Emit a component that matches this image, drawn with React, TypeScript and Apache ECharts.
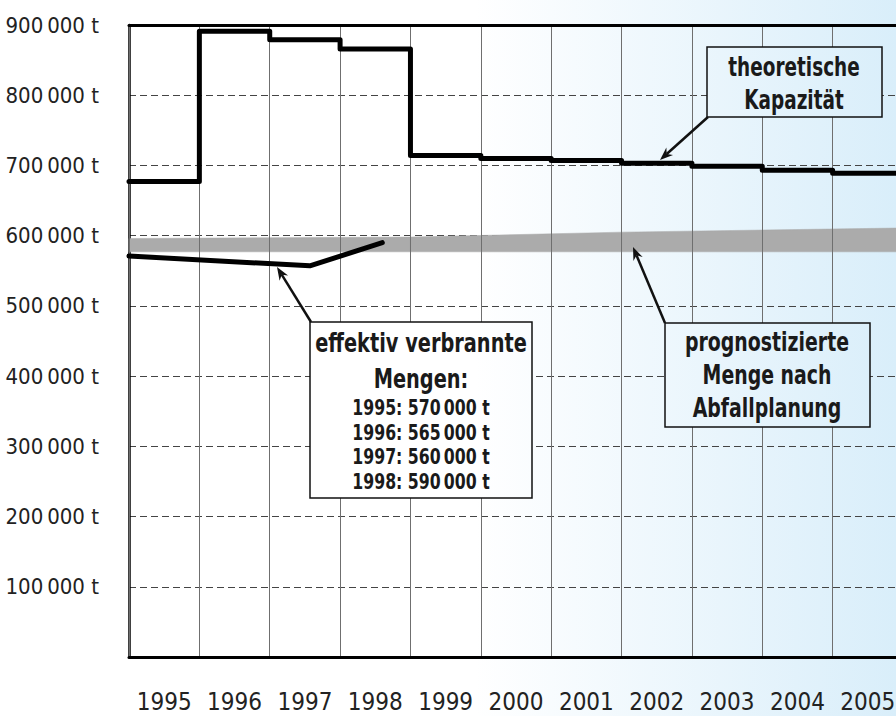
import React, { useEffect, useRef } from 'react';
import * as echarts from 'echarts';

const years = ['1995', '1996', '1997', '1998', '1999', '2000', '2001', '2002', '2003', '2004', '2005'];
const capacity = [677000, 891000, 879000, 866000, 714000, 710000, 707000, 703000, 699000, 693000, 689000];

const effectiveX = [1994.5, 1997.07, 1998.1];
const effectiveY = [571000, 557000, 590000];

const bandX = [1994.5, 1998.5, 2001.5, 2005.5];
const bandLow = [577000, 577000, 577000, 577000];
const bandHigh = [596000, 598000, 605000, 611000];

const yTickValues = [100000, 200000, 300000, 400000, 500000, 600000, 700000, 800000, 900000];
const yTickLabels = ['100\u2009000 t', '200\u2009000 t', '300\u2009000 t', '400\u2009000 t', '500\u2009000 t', '600\u2009000 t', '700\u2009000 t', '800\u2009000 t', '900\u2009000 t'];

const FONT = "'Liberation Sans Narrow', 'DejaVu Sans Condensed', 'DejaVu Sans', sans-serif";

const bgStops = [
  { offset: 0, color: '#ffffff' },
  { offset: 0.53, color: '#ffffff' },
  { offset: 1, color: '#d9eefa' },
];

function arrow(x1: number, y1: number, x2: number, y2: number) {
  const dx = x2 - x1;
  const dy = y2 - y1;
  const len = Math.sqrt(dx * dx + dy * dy);
  const ux = dx / len;
  const uy = dy / len;
  const hl = 13;
  const hw = 5;
  const bx = x2 - ux * hl;
  const by = y2 - uy * hl;
  const nx = bx + ux * 4;
  const ny = by + uy * 4;
  return [
    {
      type: 'line',
      z: 100,
      shape: { x1, y1, x2: nx, y2: ny },
      style: { stroke: '#111', lineWidth: 2.5 },
    },
    {
      type: 'polygon',
      z: 100,
      shape: {
        points: [
          [x2, y2],
          [bx - uy * hw, by + ux * hw],
          [nx, ny],
          [bx + uy * hw, by - ux * hw],
        ],
      },
      style: { fill: '#111' },
    },
  ];
}

function box(x: number, y: number, w: number, h: number) {
  return {
    type: 'rect',
    z: 100,
    shape: { x, y, width: w, height: h },
    style: {
      fill: new echarts.graphic.LinearGradient(0, 0, 896, 0, bgStops, true),
      stroke: '#111',
      lineWidth: 1.5,
    },
  };
}

function label(text: string, x: number, y: number, size: number, sy: number) {
  return {
    type: 'text',
    z: 101,
    x,
    y,
    scaleY: sy,
    style: {
      text,
      fill: '#1a1a1a',
      font: `bold ${size}px ${FONT}`,
      textAlign: 'center',
      textVerticalAlign: 'middle',
    },
  };
}

export default function App() {
  const ref = useRef<HTMLDivElement>(null);

  useEffect(() => {
    if (!ref.current) return;
    const chart = echarts.init(ref.current, null, { renderer: 'svg' });

    const capData = years.map((y, i) => [Number(y) - 0.5, capacity[i]]);
    capData.push([Number(years[years.length - 1]) + 0.5, capacity[capacity.length - 1]]);

    const option: any = {
      animation: false,
      backgroundColor: new echarts.graphic.LinearGradient(0, 0, 1, 0, bgStops),
      grid: { left: 129, right: -7, top: 25, bottom: 59, containLabel: false, outerBoundsMode: 'none' },
      xAxis: [
        {
          type: 'category',
          data: years,
          boundaryGap: true,
          position: 'bottom',
          axisLine: { show: true, lineStyle: { color: '#000', width: 3 } },
          axisTick: { show: false },
          axisLabel: {
            color: '#222',
            fontFamily: FONT,
            fontSize: 24,
            margin: 33,
            interval: 0,
          },
          splitLine: { show: true, interval: 0, lineStyle: { color: '#6f6f6f', width: 1, type: 'solid' } },
          z: 3,
        },
        {
          type: 'value',
          min: 1994.5,
          max: 2005.5,
          position: 'top',
          axisLine: { show: true, onZero: false, lineStyle: { color: '#000', width: 3 } },
          axisTick: { show: false },
          axisLabel: { show: false },
          splitLine: { show: false },
          z: 3,
        },
      ],
      yAxis: {
        type: 'value',
        min: 0,
        max: 900000,
        interval: 100000,
        axisLine: { show: true, lineStyle: { color: '#000', width: 2.5 } },
        axisTick: { show: false },
        axisLabel: {
          color: '#222',
          fontFamily: FONT,
          fontSize: 22,
          margin: 30,
          formatter: (v: number) => {
            const idx = yTickValues.indexOf(v);
            return idx >= 0 ? yTickLabels[idx] : '';
          },
        },
        splitLine: { show: true, lineStyle: { color: '#444', width: 1, type: [7, 4] } },
      },
      series: [
        {
          name: 'prognose',
          type: 'custom',
          xAxisIndex: 1,
          yAxisIndex: 0,
          data: bandX.map((x, i) => [x, bandLow[i], bandHigh[i]]),
          encode: { x: 0, y: [1, 2] },
          renderItem: (params: any, api: any) => {
            const i = params.dataIndex;
            if (i === 0) return { type: 'group', children: [] };
            const a = api.coord([bandX[i - 1], bandLow[i - 1]]);
            const b = api.coord([bandX[i], bandLow[i]]);
            const c = api.coord([bandX[i], bandHigh[i]]);
            const d = api.coord([bandX[i - 1], bandHigh[i - 1]]);
            return {
              type: 'polygon',
              shape: { points: [a, b, c, d] },
              style: { fill: '#ababab', stroke: '#ababab', lineWidth: 0.5 },
            };
          },
          z: 2,
        },
        {
          name: 'effektiv',
          type: 'line',
          xAxisIndex: 1,
          symbol: 'none',
          lineStyle: { color: '#000', width: 5, cap: 'round', join: 'round' },
          data: effectiveX.map((x, i) => [x, effectiveY[i]]),
          z: 4,
        },
        {
          name: 'kapazitaet',
          type: 'line',
          xAxisIndex: 1,
          step: 'end',
          symbol: 'none',
          lineStyle: { color: '#000', width: 5, cap: 'round', join: 'round' },
          data: capData,
          z: 5,
        },
      ],
      graphic: [
        ...arrow(708, 117, 660, 160),
        ...arrow(311, 322, 277, 267),
        ...arrow(665, 323, 633, 247),
        box(707, 47, 175, 70),
        label('theoretische', 794, 67, 20.5, 1.3),
        label('Kapazität', 794, 100, 20.5, 1.3),
        box(310, 322, 222, 176),
        label('effektiv verbrannte', 421, 343, 21.5, 1.25),
        label('Mengen:', 421, 379, 21.5, 1.25),
        label('1995: 570\u2009000 t', 421, 408, 17.5, 1.2),
        label('1996: 565\u2009000 t', 421, 433, 17.5, 1.2),
        label('1997: 560\u2009000 t', 421, 457, 17.5, 1.2),
        label('1998: 590\u2009000 t', 421, 482, 17.5, 1.2),
        box(665, 323, 205, 104),
        label('prognostizierte', 767, 342, 21, 1.25),
        label('Menge nach', 767, 375, 21, 1.25),
        label('Abfallplanung', 767, 408, 21, 1.25),
      ],
    };

    chart.setOption(option);
    return () => chart.dispose();
  }, []);

  return (
    <div
      ref={ref}
      style={{ position: 'absolute', left: 0, top: 0, width: 896, height: 716 }}
    />
  );
}
